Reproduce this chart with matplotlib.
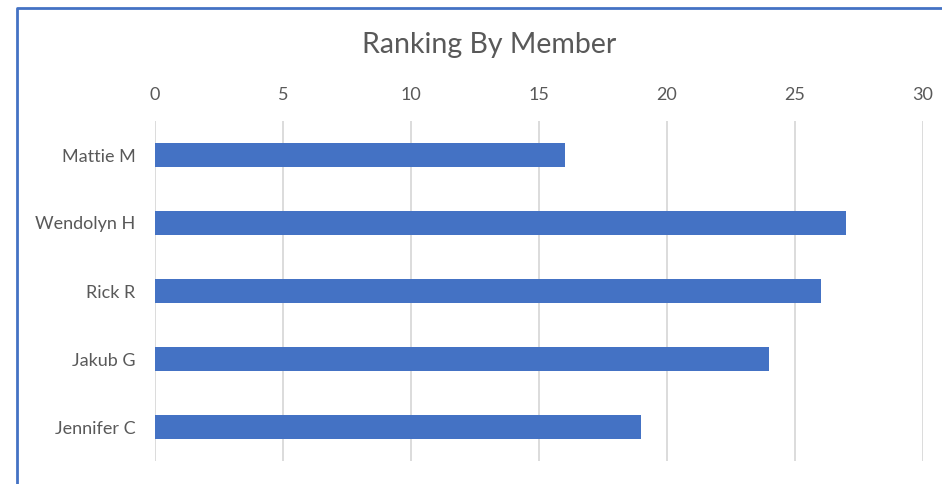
import matplotlib.pyplot as plt
from matplotlib.lines import Line2D

# Ranking per member, top to bottom as shown
members = ['Mattie M', 'Wendolyn H', 'Rick R', 'Jakub G', 'Jennifer C']
ranking = [16, 27, 26, 24, 19]
x_ticks = [0, 5, 10, 15, 20, 25, 30]

plt.rcParams['font.family'] = ['Lato', 'DejaVu Sans']

W, H = 942, 484
fig = plt.figure(figsize=(W / 100, H / 100), dpi=100)
ax = fig.add_axes([155 / W, 1 - 461 / H, (923 - 155) / W, (461 - 121) / H])

pos = list(range(len(members)))
ax.barh(pos, ranking, height=0.35, color='#4472C4', zorder=3)
ax.set_ylim(len(members) - 0.5, -0.5)
ax.set_yticks(pos)
ax.set_yticklabels(members)
ax.set_xlim(0, 30)
ax.set_xticks(x_ticks)

ax.xaxis.tick_top()
ax.tick_params(axis='x', length=0, pad=13, labelsize=13, labelcolor='#595959')
ax.tick_params(axis='y', length=0, pad=14, labelsize=13, labelcolor='#595959')
ax.grid(axis='x', color='#D9D9D9', linewidth=1.3, zorder=0)
for s in ax.spines.values():
    s.set_visible(False)

fig.text(489 / W, 1 - 45 / H, 'Ranking By Member', ha='center', va='center',
         fontsize=20.5, color='#595959')

# chart frame (only left and top edges are visible in the crop)
x0, y0 = 16.5 / W, 1 - 7.5 / H
fig.lines.append(Line2D([x0, x0, 1.0], [0.0, y0, y0], transform=fig.transFigure,
                        color='#4472C4', linewidth=2, solid_capstyle='butt'))

fig.savefig('out.png', dpi=100)
